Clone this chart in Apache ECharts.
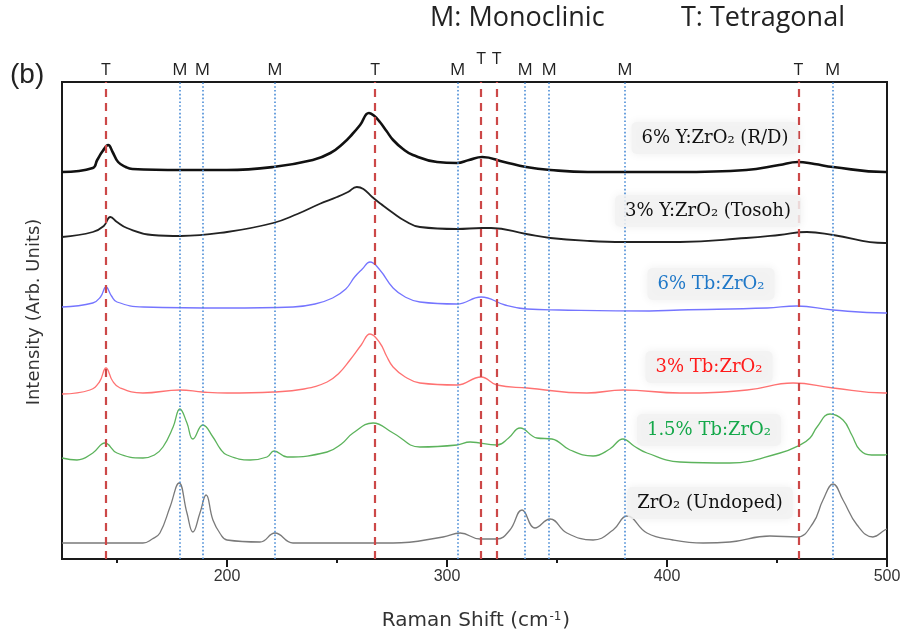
<!DOCTYPE html>
<html>
<head>
<meta charset="utf-8">
<script src="https://cdn.jsdelivr.net/npm/echarts@6/dist/echarts.min.js"></script>
<style>
  html, body { margin: 0; padding: 0; background: #fff; }
  #chart { width: 906px; height: 637px; }
</style>
</head>
<body>
<div id="chart"></div>
<script>
// Raman shift (cm-1) vs stacked intensity (arb. units)
var rdY = [[125,387],[139,391],[141,399],[143.5,408],[146,414],[148,407],[150.5,397],[154,392],[157,390],[179,389],[200,389],
  [221,392],[239,399],[247,406],[253,416],[257,425],[260.5,434],[264.5,446],[267,443],[269.5,437],[272.5,428],[275.5,419],[280,410],
  [284.5,404],[295.5,397],[304.5,396],[310,399],[316,402],[326,397],[336,392],[347,389],[364,387],[394,387],[405,387],
  [436,389],[451,394],[459.5,397],[467,395],[475.5,392],[499,387],[500,387]];
var tosohY = [[125,322],[139,327],[144,333],[147,342],[150,337],[154.5,331],[166,324],[179,323],[200,327],[221,336],
  [232,345],[242,355],[250,362],[255,367],[259,372],[262,370],[266,362],[270,355],[275.5,346],[281,338],[287.7,332],[304.5,330],[316,331],
  [320,331],[336,325],[347,321],[365,318],[380,317],[405.9,317],[436,321],[451,324],[463.6,327],[475.5,324],[499,316],[500,316]];
var tb6Y = [[125,252],[139,256],[142.5,262],[145,272],[147.5,263],[150,257],[162,252],[200,251],[230,252],[240,255],
  [248,261],[254,270],[258,282],[261.5,290],[265,297],[269.5,289],[275.5,271],[281,262],[287.7,257],[304.5,255],[315.5,262],[326.4,254],
  [336.4,250],[351,249],[392,248],[405.9,249],[445.5,251],[459,253],[475.5,249],[499,246],[500,246]];
var tb3Y = [[125,165],[137.7,169],[142,177],[145,191],[148,178],[151.4,171],[161.8,166],[178.6,169],[189,167],[200,166],
  [221,167],[235,170],[245.5,177],[251,186],[255.9,199],[261,214],[265,225],[269.5,216],[272.5,203],[275.5,192],[281,182],[287.7,176],
  [304.5,174],[315.5,182],[322.7,174],[336.4,171],[363.6,166],[380,169],[405.9,166],[436.4,169],[457.3,176],[475.5,171],
  [499,166],[500,166]];
var tb15Y = [[125,101],[131.8,99],[139,106],[144.5,116],[150,106],[161.8,101],[167,104],[170.9,112],[175.5,132],[178.6,150],
  [181.8,136],[184.5,120],[189,134],[193.6,122],[197,110],[200,104],[210.5,99],[218.2,102],[221.4,108],[227.3,102],[245.5,107],
  [252,115],[257.3,126],[266.4,136],[275.5,126],[287.7,112],[304.5,114],[310.5,117],[322.7,114],[328,121],[333.2,131],[340.9,121],
  [347.7,120],[355.9,109],[366.4,103],[374,110],[380,120],[385,113],[390.9,106],[405.9,97],[428.6,96],[451.4,106],[460.5,114],
  [465,121],[468.2,132],[474.1,145],[480,139],[484,124],[487.7,109],[493,104],[499,104],[500,105]];
var undopedY = [[125,16],[161.8,16],[166,20],[169.5,26],[174.1,52],[178.2,76],[181.8,46],[184.5,27],[187.7,46],[190.5,64],
  [193.6,39],[197,25],[200,19],[215,17],[221.8,26],[230,16],[260,16],[275.5,16],[298.2,22],[306,26],[315,20],[322.7,20],
  [328.6,29],[334.1,49],[340,31],[346.8,40],[354.5,26],[366.4,19],[375.5,29],[381.8,43],[390.9,26],[402.7,19],[416.4,16],
  [428.6,17],[446.8,23],[459,22],[466.4,36],[470.9,59],[475.5,75],[480,59],[486.4,34],[493.6,22],[499,29],[500,30]];

// phase reference lines
var tLines = [145, 267.3, 315.5, 322.6, 459.7];
var mLines = [178.6, 188.8, 221.8, 304.8, 335.5, 346.4, 380.9, 475.3];
var raisedT = [315.5, 322.6];

var majorTicks = [200, 300, 400, 500];
var minorTicks = [150, 250, 350, 450];

var seriesNames = ['6% Y:ZrO₂ (R/D)', '3% Y:ZrO₂ (Tosoh)', '6% Tb:ZrO₂', '3% Tb:ZrO₂', '1.5% Tb:ZrO₂', 'ZrO₂ (Undoped)'];
var seriesData = [rdY, tosohY, tb6Y, tb3Y, tb15Y, undopedY];
var seriesColors = ['#111111', '#222222', '#7575ff', '#ff7272', '#5cb35c', '#7a7a7a'];
var seriesWidths = [2.6, 1.8, 1.3, 1.3, 1.3, 1.3];
var labelColors = ['#111111', '#111111', '#1f78c8', '#ff1a1a', '#14a84a', '#111111'];
var labelPos = [[715, 138], [708, 211], [711, 284], [709, 367], [709, 430], [710, 503]];

var myChart = echarts.init(document.getElementById('chart'));

var lineMarks = [];
tLines.forEach(function (v) {
    lineMarks.push({
        xAxis: v,
        lineStyle: { color: '#cc4848', type: [8, 6], width: 2.2 },
        label: { formatter: 'T', distance: raisedT.indexOf(v) >= 0 ? 14 : 3 }
    });
});
mLines.forEach(function (v) {
    lineMarks.push({
        xAxis: v,
        lineStyle: { color: '#4a8cd6', type: [1.6, 2.2], width: 1.6 },
        label: { formatter: 'M', distance: 3 }
    });
});

var series = seriesData.map(function (d, i) {
    return {
        name: seriesNames[i],
        type: 'line',
        data: d,
        smooth: 0.45,
        symbol: 'none',
        z: 2,
        lineStyle: { color: seriesColors[i], width: seriesWidths[i] }
    };
});
series.push({
    type: 'line',
    data: [],
    z: 3,
    silent: true,
    markLine: {
        silent: true,
        symbol: 'none',
        animation: false,
        label: { show: true, position: 'end', color: '#222', fontFamily: 'Open Sans', fontSize: 17 },
        data: lineMarks
    }
});

var graphics = seriesNames.map(function (n, i) {
    return {
        type: 'text',
        x: labelPos[i][0],
        y: labelPos[i][1],
        z: 10,
        style: {
            text: n,
            fill: labelColors[i],
            font: '18px "DejaVu Serif"',
            align: 'center',
            verticalAlign: 'middle',
            backgroundColor: 'rgba(242,242,242,0.85)',
            padding: [7, 10],
            borderRadius: 5,
            shadowBlur: 10,
            shadowColor: 'rgba(0,0,0,0.08)'
        }
    };
});
graphics.push(
    { type: 'text', x: 430, y: 18, style: { text: 'M: Monoclinic', fill: '#222', font: '27px "Open Sans"', verticalAlign: 'middle' } },
    { type: 'text', x: 681, y: 18, style: { text: 'T: Tetragonal', fill: '#222', font: '27px "Open Sans"', verticalAlign: 'middle' } },
    { type: 'text', x: 10, y: 75, style: { text: '(b)', fill: '#222', font: '28px "Liberation Sans"', verticalAlign: 'middle' } },
    { type: 'text', x: 476, y: 621, style: {
        text: 'Raman Shift (cm{sup|-1})', fill: '#333', font: '20px "DejaVu Sans"', align: 'center', verticalAlign: 'middle',
        rich: { sup: { font: '12px "DejaVu Sans"', fill: '#333', verticalAlign: 'top', padding: [0, 1, 8, 1] } } } },
    { type: 'text', x: 34, y: 312, rotation: Math.PI / 2, style: {
        text: 'Intensity (Arb. Units)', fill: '#333', font: '18px "DejaVu Sans"', align: 'center', verticalAlign: 'middle' } }
);

myChart.setOption({
    animation: false,
    grid: {
        left: 62,
        right: 19,
        top: 82,
        bottom: 78,
        show: true,
        borderColor: '#1a1a1a',
        borderWidth: 2
    },
    xAxis: [
        {
            type: 'value',
            min: 125,
            max: 500,
            position: 'bottom',
            splitLine: { show: false },
            axisLine: { show: true, lineStyle: { color: '#1a1a1a', width: 2 } },
            axisTick: { show: true, length: 8, customValues: majorTicks, lineStyle: { color: '#1a1a1a', width: 2 } },
            axisLabel: { show: true, customValues: majorTicks, margin: 10, color: '#333', fontSize: 16, fontFamily: 'Liberation Sans' }
        },
        {
            type: 'value',
            min: 125,
            max: 500,
            position: 'bottom',
            splitLine: { show: false },
            axisLine: { show: false },
            axisTick: { show: true, length: 4, customValues: minorTicks, lineStyle: { color: '#1a1a1a', width: 2 } },
            axisLabel: { show: false }
        }
    ],
    yAxis: {
        type: 'value',
        min: 0,
        max: 477,
        show: false,
        splitLine: { show: false }
    },
    series: series,
    graphic: graphics
});
</script>
</body>
</html>
